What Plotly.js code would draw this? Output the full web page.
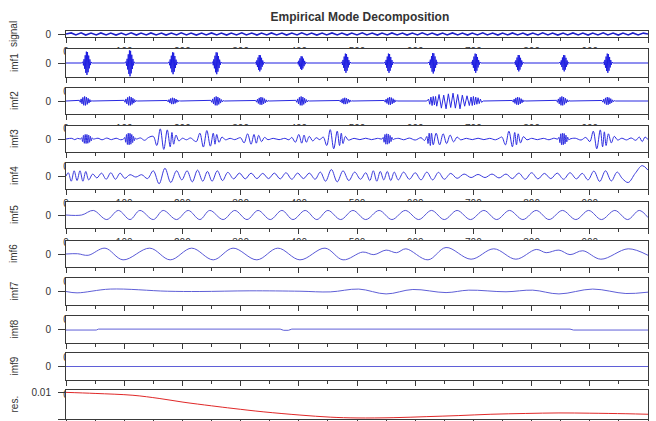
<!DOCTYPE html>
<html><head><meta charset="utf-8">
<script src="https://cdn.plot.ly/plotly-3.0.1.min.js"></script>
<style>html,body{margin:0;padding:0;background:#fff}#chart{width:656px;height:421px}</style>
</head><body><div id="chart"></div>
<script>
// ---------- data ----------
const rowNames = ['signal','imf1','imf2','imf3','imf4','imf5','imf6','imf7','imf8','imf9','res.'];
const xTickVals = [0,100,200,300,400,500,600,700,800,900,1000];
const resTickVals = [0, 0.01];
const resTickText = ['0', '0.01'];

const signalX = [0,9,17,26,34,43,52,60,69,77,86,95,103,112,121,129,138,146,155,164,172,181,190,198,207,215,224,233,241,250,259,267,276,284,293,302,310,319,328,336,345,353,362,371,379,388,397,405,414,422,431,440,448,457,466,474,483,491,500,509,517,526,535,543,552,560,569,578,586,595,604,612,621,629,638,647,655,664,673,681,690,698,707,716,724,733,742,750,759,767,776,785,793,802,811,819,828,836,845,854,862,871,880,888,897,905,914,923,931,940,949,957,966,974,983,992,1000];
const signalY = [0,0.35,-0.3,0.4,-0.35,0.3,-0.3,0.35,-0.3,0.3,-0.35,0.3,-0.3,0.4,-0.35,0.3,-0.3,0.35,-0.3,0.3,-0.35,0.3,-0.3,0.4,-0.3,0.3,-0.35,0.3,-0.3,0.35,-0.3,0.3,-0.35,0.3,-0.3,0.4,-0.3,0.3,-0.35,0.3,-0.3,0.35,-0.3,0.3,-0.35,0.3,-0.3,0.4,-0.3,0.3,-0.35,0.3,-0.3,0.35,-0.3,0.3,-0.35,0.3,-0.3,0.4,-0.3,0.3,-0.35,0.3,-0.3,0.35,-0.3,0.3,-0.35,0.3,-0.3,0.4,-0.3,0.3,-0.35,0.3,-0.3,0.35,-0.3,0.3,-0.35,0.3,-0.3,0.4,-0.3,0.3,-0.35,0.3,-0.3,0.35,-0.3,0.3,-0.35,0.3,-0.3,0.4,-0.3,0.3,-0.35,0.3,-0.3,0.35,-0.3,0.3,-0.35,0.3,-0.3,0.4,-0.3,0.3,-0.35,0.3,-0.3,0.35,-0.3,0.3,0];

const imf1X = [0,
 27,29,30,31,32,33,34,35,36,37,38,39,40,41,42,43,45,
 101,103,104,105,106,107,108,109,110,111,112,113,114,115,116,117,119,
 175,177,178,179,180,181,182,183,184,185,186,187,188,189,190,191,193,
 250,252,253,254,255,256,257,258,259,260,261,262,263,264,265,266,268,
 324,326,327,328,329,330,331,332,333,334,335,336,337,338,339,340,342,
 396,398,399,400,401,402,403,404,405,406,407,408,409,410,411,412,414,
 472,474,475,476,477,478,479,480,481,482,483,484,485,486,487,488,490,
 546,548,549,550,551,552,553,554,555,556,557,558,559,560,561,562,564,
 622,624,625,626,627,628,629,630,631,632,633,634,635,636,637,638,640,
 695,697,698,699,700,701,702,703,704,705,706,707,708,709,710,711,713,
 769,771,772,773,774,775,776,777,778,779,780,781,782,783,784,785,787,
 847,849,850,851,852,853,854,855,856,857,858,859,860,861,862,863,865,
 922,924,925,926,927,928,929,930,931,932,933,934,935,936,937,938,940,
 1000];
const imf1Y = [0,
 0,0.09,-0.17,0.27,-0.41,0.55,-0.7,0.81,-0.85,0.78,-0.66,0.53,-0.38,0.26,-0.15,0.07,0,
 0,0.1,-0.19,0.3,-0.46,0.62,-0.78,0.9,-0.95,0.87,-0.74,0.59,-0.43,0.29,-0.17,0.08,0,
 0,0.08,-0.16,0.26,-0.38,0.52,-0.66,0.76,-0.8,0.74,-0.62,0.5,-0.36,0.24,-0.14,0.06,0,
 0,0.08,-0.16,0.26,-0.38,0.52,-0.66,0.76,-0.8,0.74,-0.62,0.5,-0.36,0.24,-0.14,0.06,0,
 0,0.06,-0.12,0.19,-0.29,0.39,-0.49,0.57,-0.6,0.55,-0.47,0.37,-0.27,0.18,-0.11,0.05,0,
 0,0.05,-0.1,0.16,-0.24,0.33,-0.41,0.48,-0.5,0.46,-0.39,0.31,-0.23,0.15,-0.09,0.04,0,
 0,0.07,-0.14,0.22,-0.34,0.46,-0.57,0.67,-0.7,0.64,-0.55,0.43,-0.32,0.21,-0.13,0.06,0,
 0,0.07,-0.14,0.22,-0.34,0.46,-0.57,0.67,-0.7,0.64,-0.55,0.43,-0.32,0.21,-0.13,0.06,0,
 0,0.08,-0.15,0.24,-0.36,0.49,-0.62,0.71,-0.75,0.69,-0.59,0.47,-0.34,0.23,-0.14,0.06,0,
 0,0.07,-0.14,0.22,-0.34,0.46,-0.57,0.67,-0.7,0.64,-0.55,0.43,-0.32,0.21,-0.13,0.06,0,
 0,0.06,-0.12,0.19,-0.29,0.39,-0.49,0.57,-0.6,0.55,-0.47,0.37,-0.27,0.18,-0.11,0.05,0,
 0,0.06,-0.12,0.19,-0.29,0.39,-0.49,0.57,-0.6,0.55,-0.47,0.37,-0.27,0.18,-0.11,0.05,0,
 0,0.07,-0.14,0.22,-0.34,0.46,-0.57,0.67,-0.7,0.64,-0.55,0.43,-0.32,0.21,-0.13,0.06,0,
 0];

const imf2X = [0,
 21,23,24.5,26,27.5,29,30.5,32,33.5,35,36.5,38,39.5,41,42.5,44,46,
 98,100,101.5,103,104.5,106,107.5,109,110.5,112,113.5,115,116.5,118,119.5,121,123,
 172,174,175.5,177,178.5,180,181.5,183,184.5,186,187.5,189,190.5,192,193.5,195,197,
 247,249,250.5,252,253.5,255,256.5,258,259.5,261,262.5,264,265.5,267,268.5,270,272,
 324,326,327.5,329,330.5,332,333.5,335,336.5,338,339.5,341,342.5,344,345.5,347,349,
 393,395,396.5,398,399.5,401,402.5,404,405.5,407,408.5,410,411.5,413,414.5,416,418,
 468,470,471.5,473,474.5,476,477.5,479,480.5,482,483.5,485,486.5,488,489.5,491,493,
 545,547,548.5,550,551.5,553,554.5,556,557.5,559,560.5,562,563.5,565,566.5,568,570,
 620,623,625,627,629,631,633,635,637,641,645,649,653,657,661,665,669,673,677,681,685,689,693,696,698,700,702,704,706,708,710,712,714,717,
 765,767,768.5,770,771.5,773,774.5,776,777.5,779,780.5,782,783.5,785,786.5,788,790,
 841,843,844.5,846,847.5,849,850.5,852,853.5,855,856.5,858,859.5,861,862.5,864,866,
 919,921,922.5,924,925.5,927,928.5,930,931.5,933,934.5,936,937.5,939,940.5,942,944,
 1000];
const imf2Y = [0,
 0,0.05,-0.1,0.16,-0.22,0.28,-0.33,0.35,-0.34,0.3,-0.26,0.21,-0.16,0.11,-0.07,0.03,0,
 0,0.05,-0.1,0.16,-0.22,0.28,-0.33,0.35,-0.34,0.3,-0.26,0.21,-0.16,0.11,-0.07,0.03,0,
 0,0.04,-0.07,0.11,-0.16,0.2,-0.24,0.25,-0.24,0.21,-0.19,0.15,-0.11,0.08,-0.05,0.02,0,
 0,0.05,-0.1,0.16,-0.22,0.28,-0.33,0.35,-0.34,0.3,-0.26,0.21,-0.16,0.11,-0.07,0.03,0,
 0,0.04,-0.09,0.14,-0.19,0.24,-0.28,0.3,-0.29,0.26,-0.22,0.18,-0.14,0.09,-0.06,0.03,0,
 0,0.05,-0.1,0.16,-0.22,0.28,-0.33,0.35,-0.34,0.3,-0.26,0.21,-0.16,0.11,-0.07,0.03,0,
 0,0.04,-0.07,0.11,-0.16,0.2,-0.24,0.25,-0.24,0.21,-0.19,0.15,-0.11,0.08,-0.05,0.02,0,
 0,0.04,-0.09,0.14,-0.19,0.24,-0.28,0.3,-0.29,0.26,-0.22,0.18,-0.14,0.09,-0.06,0.03,0,
 0,0.15,-0.25,0.3,-0.35,0.35,-0.3,0.35,-0.4,0.5,-0.55,0.45,-0.6,0.55,-0.5,0.6,-0.55,0.5,-0.6,0.45,-0.4,0.4,-0.35,0.3,-0.35,0.35,-0.3,0.3,-0.25,0.25,-0.2,0.15,-0.1,0,
 0,0.04,-0.09,0.14,-0.19,0.24,-0.28,0.3,-0.29,0.26,-0.22,0.18,-0.14,0.09,-0.06,0.03,0,
 0,0.05,-0.1,0.16,-0.22,0.28,-0.33,0.35,-0.34,0.3,-0.26,0.21,-0.16,0.11,-0.07,0.03,0,
 0,0.04,-0.09,0.14,-0.19,0.24,-0.28,0.3,-0.29,0.26,-0.22,0.18,-0.14,0.09,-0.06,0.03,0,
 0];

const imf3X = [0,10,15,20,
 25,27,28.5,30,31.5,33,34.5,36,37.5,39,40.5,42,43.5,45,47,
 55,62,70,78,86,94,
 99,101,102.5,104,105.5,107,108.5,110,111.5,113,114.5,116,117.5,119,121,
 128,135,142,
 150,156,162,168,174,179,182,185,189,194,200,
 207,214,220,
 224,230,236,242,248,253,256,259,263,268,274,
 282,290,296,
 300,306,312,318,323,327,331,336,341,347,
 356,366,376,383,
 388,394,400,405,409,413,418,424,430,436,
 442,448,454,460,466,470,473,476,480,485,
 495,505,515,525,535,
 543,545,546.5,548,549.5,551,552.5,554,555.5,557,558.5,560,562,564,
 572,580,590,600,610,616,
 620,622,624,626,628,631,636,642,648,654,660,666,672,678,
 688,698,708,718,728,738,745,
 749,755,761,767,771,774,777,781,786,792,
 800,810,820,830,838,
 845,847,848.5,850,851.5,853,854.5,856,857.5,859,860.5,862,864,866,
 875,885,893,
 900,906,912,918,922,925,928,932,937,942,948,
 955,963,971,979,985,990,995,1000];
const imf3Y = [0,0.05,-0.05,0.05,
 0,0.1,-0.2,0.28,-0.33,0.35,-0.35,0.35,-0.33,0.3,-0.25,0.2,-0.14,0.08,0,
 0.06,-0.06,0.07,-0.05,0.06,-0.06,
 0,0.12,-0.25,0.35,-0.42,0.45,-0.45,0.44,-0.4,0.35,-0.28,0.2,-0.13,0.07,0,
 0.08,-0.1,0.12,
 0.2,-0.5,0.78,-0.8,0.7,-0.6,0.5,-0.4,0.3,-0.15,0.06,
 -0.06,0.08,-0.12,
 -0.2,0.45,-0.62,0.65,-0.55,0.45,-0.4,0.35,-0.25,0.15,-0.06,
 0.05,-0.05,0.06,
 0.1,-0.3,0.4,-0.4,0.35,-0.32,0.28,-0.2,0.12,-0.05,
 0.05,-0.05,0.05,-0.06,
 0.12,-0.25,0.35,-0.32,0.3,-0.25,0.2,-0.15,0.1,-0.05,
 0.15,-0.5,0.72,-0.75,0.6,-0.5,0.45,-0.35,0.2,-0.08,
 0.05,-0.05,0.06,-0.05,0.05,
 0,0.12,-0.25,0.35,-0.4,0.4,-0.4,0.38,-0.33,0.27,-0.2,0.13,-0.06,0,
 0.05,-0.06,0.07,-0.08,0.1,-0.12,
 0.2,-0.35,0.45,-0.5,0.45,-0.45,0.45,-0.45,0.4,-0.35,0.3,-0.22,0.15,-0.06,
 0.05,-0.05,0.06,-0.05,0.05,-0.06,0.08,
 0.15,-0.45,0.6,-0.6,0.5,-0.45,0.4,-0.3,0.18,-0.06,
 0.05,-0.05,0.05,-0.06,0.06,
 0,0.13,-0.28,0.4,-0.45,0.45,-0.45,0.42,-0.37,0.3,-0.22,0.14,-0.07,0,
 0.06,-0.08,0.12,
 -0.2,0.6,-0.75,0.7,-0.6,0.55,-0.5,0.4,-0.3,0.2,-0.08,
 0.06,-0.07,0.08,-0.1,0.15,-0.2,0.15,-0.05];

const imf4X = [0,4,9,14,19,24,29,34,39,46,53,61,69,77,85,93,101,110,120,130,140,150,160,170,180,190,199,208,217,226,235,243,251,260,269,278,288,298,308,318,328,338,348,358,368,378,388,398,408,418,428,437,446,456,466,476,486,496,506,515,522,528,534,540,546,552,558,564,571,580,590,600,610,620,630,640,650,661,672,684,696,708,720,732,744,756,767,778,789,800,811,822,833,844,855,866,877,887,897,907,917,927,937,947,956,966,978,990,1000];
const imf4Y = [0,0.25,-0.4,0.4,-0.35,0.4,-0.4,0.35,-0.3,0.15,-0.15,0.22,-0.25,0.25,-0.25,0.22,-0.18,0.1,-0.08,0.1,-0.2,0.4,-0.6,0.6,-0.5,0.4,-0.3,0.4,-0.45,0.45,-0.4,0.35,-0.4,0.4,-0.35,0.28,-0.22,0.22,-0.22,0.22,-0.2,0.2,-0.2,0.22,-0.22,0.25,-0.25,0.22,-0.2,0.22,-0.25,0.3,-0.4,0.5,-0.45,0.4,-0.35,0.3,-0.25,0.25,-0.35,0.4,-0.4,0.35,-0.3,0.35,-0.35,0.3,-0.3,0.3,-0.25,0.25,-0.3,0.3,-0.3,0.28,-0.25,0.2,-0.18,0.15,-0.12,0.12,-0.12,0.15,-0.15,0.15,-0.2,0.22,-0.25,0.25,-0.22,0.2,-0.2,0.22,-0.25,0.25,-0.22,0.2,-0.3,0.38,-0.42,0.4,-0.38,0.3,-0.2,-0.5,0.2,0.8,0.45];

const imf5X = [0,27,47,70,90,110,127,150,167,190,210,230,247,270,290,311,330,351,371,390,411,431,450,472,493,515,538,560,583,606,628,650,672,695,718,740,762,785,808,830,853,876,898,920,943,965,985,1000];
const imf5Y = [0,0,0.35,-0.35,0.35,-0.35,0.35,-0.35,0.35,-0.35,0.35,-0.35,0.35,-0.35,0.35,-0.35,0.35,-0.35,0.35,-0.35,0.35,-0.35,0.35,-0.35,0.35,-0.35,0.35,-0.35,0.35,-0.35,0.35,-0.35,0.35,-0.35,0.35,-0.35,0.35,-0.35,0.35,-0.35,0.35,-0.35,0.35,-0.35,0.35,-0.35,0.35,-0.2];

const imf6X = [0,20,38,67,98,144,179,216,253,287,328,364,402,445,476,510,529,550,568,584,622,653,696,735,773,808,825,847,866,888,919,966,1000];
const imf6Y = [0,0.02,-0.1,0.45,-0.45,0.45,-0.45,0.45,-0.45,0.45,-0.45,0.45,-0.45,0.45,-0.45,0.15,-0.05,0.3,0.1,0.4,-0.45,0.5,-0.4,0.4,-0.4,0.35,0.1,0.3,-0.05,0.25,-0.4,0.4,-0.1];

const imf7X = [0,19,76,174,230,316,402,454,503,550,596,653,692,756,802,847,905,962,1000];
const imf7Y = [0,-0.1,0.18,0.02,0,0.05,0.02,-0.03,0.18,-0.18,0.15,-0.08,0.1,-0.02,0.1,-0.18,0.18,-0.15,-0.05];

const imf8X = [0,52,56,368,374,382,388,866,872,1000];
const imf8Y = [-0.04,-0.04,0.03,0.03,-0.06,-0.06,0.03,0.03,-0.04,-0.04];

const imf9X = [0,1000];
const imf9Y = [0,0];

const resX = [0,50,115,160,201,250,287,340,402,454,500,562,620,675,730,790,847,900,962,1000];
const resY = [0.0101,0.0097,0.0090,0.0078,0.0064,0.0050,0.0040,0.0027,0.0015,0.0007,0.0004,0.0005,0.0009,0.0013,0.0018,0.0021,0.0023,0.0022,0.0020,0.0018];

// ---------- layout ----------
const W = 656, H = 421;
const M = {l: 66, r: 8, t: 31, b: 2};
const plotH = H - M.t - M.b;
const rowTop = [31, 49, 88, 126, 163, 202, 241, 278, 316, 353, 390];
const rowBot = [37, 77, 114, 152, 189, 228, 267, 305, 343, 380, 419];
const pyToPaper = py => (H - M.b - py) / plotH;

const series = [
  [signalX, signalY, 'linear'], [imf1X, imf1Y, 'linear'], [imf2X, imf2Y, 'linear'],
  [imf3X, imf3Y, 'spline'], [imf4X, imf4Y, 'spline'], [imf5X, imf5Y, 'spline'],
  [imf6X, imf6Y, 'spline'], [imf7X, imf7Y, 'spline'], [imf8X, imf8Y, 'linear'],
  [imf9X, imf9Y, 'linear'], [resX, resY, 'spline']
];
const lineColors = ['rgb(30,30,200)','rgb(30,30,225)','rgb(40,40,225)','rgb(45,45,225)','rgb(60,60,220)',
  'rgb(85,85,215)','rgb(90,90,215)','rgb(95,95,215)','rgb(95,95,215)','rgb(95,95,215)','#e02828'];
const lineWidths = [1.6,1,1,1,1,1,1,1,1,1,1];

const axColor = '#3a3a3a';
const fnt = {family: 'Liberation Sans, Arial, sans-serif', size: 10, color: '#333'};

const data = [{x: [null], y: [null], xaxis: 'x', yaxis: 'y', mode: 'lines', showlegend: false, hoverinfo: 'skip'}];
const layout = {
  width: W, height: H, margin: M,
  paper_bgcolor: '#fff', plot_bgcolor: '#fff',
  showlegend: false,
  title: {text: '<b>Empirical Mode Decomposition</b>', x: 0.505, xref: 'paper', xanchor: 'center',
          y: 1 - 17 / H, yref: 'container', yanchor: 'middle',
          font: {family: 'Liberation Sans, Arial, sans-serif', size: 12, color: '#333'}},
  xaxis: {domain: [0, 1], range: [0, 1], visible: false, fixedrange: true},
  yaxis: {domain: [0, 1], range: [0, 1], visible: false, fixedrange: true},
  annotations: []
};

rowNames.forEach((name, i) => {
  const n = i + 2;
  const isRes = i === rowNames.length - 1;
  const [sx, sy, shape] = series[i];
  data.push({
    x: sx, y: sy, xaxis: 'x' + n, yaxis: 'y' + n, mode: 'lines',
    line: {color: lineColors[i], width: lineWidths[i], shape: shape, smoothing: 1},
    showlegend: false, hoverinfo: 'skip'
  });
  layout['xaxis' + n] = {
    domain: [0, 1], range: [0, 1000], anchor: 'y' + n,
    tickvals: xTickVals, ticks: 'outside', ticklen: 5, tickcolor: axColor, tickwidth: 1,
    showticklabels: !isRes,
    minor: {dtick: 50, tick0: 0, ticks: 'outside', ticklen: 3, tickcolor: axColor},
    showline: true, mirror: true, linecolor: axColor, linewidth: 1,
    showgrid: false, zeroline: false, tickfont: fnt, fixedrange: true
  };
  layout['yaxis' + n] = {
    domain: [pyToPaper(rowBot[i]), pyToPaper(rowTop[i])], anchor: 'x' + n,
    range: isRes ? [0, 0.011] : [-1, 1],
    tickvals: isRes ? resTickVals : [0], ticktext: isRes ? resTickText : ['0'],
    ticks: 'outside', ticklen: 7, tickcolor: axColor, ticklabelstandoff: 5,
    showline: true, mirror: true, linecolor: axColor, linewidth: 1,
    showgrid: false, zeroline: false, tickfont: fnt, fixedrange: true
  };
  layout.annotations.push({
    text: name, xref: 'paper', yref: 'paper', x: (14 - M.l) / (W - M.l - M.r),
    y: pyToPaper((rowTop[i] + rowBot[i]) / 2), xanchor: 'center', yanchor: 'middle',
    textangle: -90, showarrow: false, font: fnt
  });
});

Plotly.newPlot('chart', data, layout, {staticPlot: true, displayModeBar: false});
</script>
</body></html>
